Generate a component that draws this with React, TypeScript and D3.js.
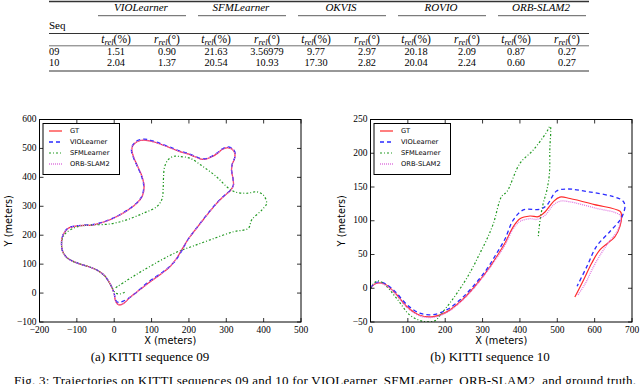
import React from "react";
import * as d3 from "d3";

type Pt = [number, number];

// table values
const methods = ["VIOLearner", "SFMLearner", "OKVIS", "ROVIO", "ORB-SLAM2"];
const seqLabels = ["09", "10"];
const errors09 = ["1.51", "0.90", "21.63", "3.56979", "9.77", "2.97", "20.18", "2.09", "0.87", "0.27"];
const errors10 = ["2.04", "1.37", "20.54", "10.93", "17.30", "2.82", "20.04", "2.24", "0.60", "0.27"];

const legendNames = ["GT", "VIOLearner", "SFMLearner", "ORB-SLAM2"];

const xTicks09 = [-200, -100, 0, 100, 200, 300, 400, 500];
const yTicks09 = [-100, 0, 100, 200, 300, 400, 500, 600];
const xTicks10 = [0, 100, 200, 300, 400, 500, 600, 700];
const yTicks10 = [-50, 0, 50, 100, 150, 200, 250];

// KITTI 09 trajectories (meters)
const gt09: Pt[] = [
  [0, 0], [3, -25], [8, -37], [14, -41], [25, -36], [42, -15], [70, 13], [96, 39], [125, 66], [149, 91],
  [168, 122], [181, 150], [198, 186], [218, 220], [238, 253], [262, 292], [283, 322], [300, 342], [312, 356],
  [319, 372], [318, 395], [314, 425], [316, 445], [322, 465], [323, 483], [316, 497], [303, 503], [290, 497],
  [275, 482], [261, 471], [245, 463], [232, 463], [215, 472], [195, 482], [176, 489], [158, 498], [130, 512],
  [105, 523], [80, 529], [62, 524], [50, 510], [47, 495], [52, 470], [62, 440], [73, 408], [80, 370], [75, 335],
  [60, 310], [40, 290], [15, 270], [-20, 249], [-56, 236], [-100, 232], [-123, 224], [-134, 208], [-140, 188],
  [-141, 168], [-139, 148], [-132, 130], [-120, 116], [-95, 102], [-70, 92], [-47, 80], [-30, 65], [-20, 51],
  [-7, 22], [-2, 5],
];
const vio09: Pt[] = [
  [0, 0], [3, -20], [7, -30], [14, -32], [24, -28], [51, -7], [87, 34], [131, 74], [160, 106], [178, 140],
  [198, 186], [218, 221], [238, 254], [262, 293], [283, 323], [300, 343], [312, 357], [319, 373], [318, 396],
  [314, 426], [316, 446], [322, 466], [324, 484], [317, 499], [303, 505], [290, 499], [275, 484], [261, 473],
  [245, 465], [232, 465], [215, 474], [195, 484], [176, 491], [158, 500], [130, 514], [105, 525], [80, 532],
  [62, 527], [50, 512], [46, 495], [51, 470], [61, 440], [72, 408], [79, 370], [74, 335], [59, 310], [39, 290],
  [14, 270], [-20, 250], [-56, 237], [-100, 233], [-123, 225], [-134, 209], [-140, 188], [-141, 168],
  [-139, 148], [-132, 130], [-120, 116], [-95, 102], [-70, 92], [-47, 80], [-30, 65], [-20, 51], [-7, 22], [-2, 5],
];
const sfm09: Pt[] = [
  [28, 3], [15, -3], [4, 0], [-7, 22], [-20, 51], [-30, 65], [-47, 80], [-70, 92], [-95, 102], [-120, 116],
  [-132, 130], [-139, 148], [-141, 168], [-138, 190], [-130, 207], [-100, 229], [-65, 235], [-11, 239],
  [33, 253], [78, 276], [114, 299], [128, 325], [131, 360], [132, 400], [135, 437], [145, 462], [160, 473],
  [176, 472], [203, 466], [238, 437], [274, 402], [301, 368], [323, 350], [355, 345], [381, 350], [399, 339],
  [408, 310], [395, 287], [368, 253], [359, 224], [319, 212], [261, 186], [210, 162], [168, 142], [120, 110],
  [60, 65], [2, 17],
];
const orb09: Pt[] = [
  [0, 0], [3, -25], [8, -37], [14, -41], [25, -36], [42, -15], [70, 13], [96, 39], [125, 66], [149, 91],
  [168, 122], [181, 150], [198, 186], [218, 220], [238, 253], [262, 292], [283, 322], [300, 342], [312, 356],
  [319, 372], [318, 395], [314, 425], [316, 445], [322, 465], [323, 483], [316, 497], [303, 503], [290, 497],
  [275, 482], [261, 471], [245, 463], [232, 463], [215, 472], [195, 482], [176, 489], [158, 498], [130, 512],
  [105, 523], [80, 529], [62, 524], [50, 510], [47, 495], [52, 470], [62, 440], [73, 408], [80, 370], [75, 335],
  [60, 310], [40, 290], [15, 270], [-20, 249], [-56, 236], [-100, 232], [-123, 224], [-134, 208], [-140, 188],
  [-141, 168], [-139, 148], [-132, 130], [-120, 116], [-95, 102], [-70, 92], [-47, 80], [-30, 65], [-20, 51],
  [-7, 22], [-2, 5],
];

// KITTI 10 trajectories (meters)
const gt10: Pt[] = [
  [0, 0], [10, 6], [21, 8], [39, 6], [66, -7], [97, -27], [132, -40], [168, -42], [204, -35], [240, -20],
  [275, 0], [311, 25], [338, 47], [360, 67], [382, 91], [400, 103], [427, 107], [449, 106], [467, 113],
  [489, 128], [507, 135], [534, 133], [600, 124], [668, 114], [672, 108], [668, 92], [654, 76], [614, 57],
  [592, 37], [570, 12], [547, -13],
];
const vio10: Pt[] = [
  [0, 0], [10, 7], [21, 9], [39, 7], [66, -5], [97, -24], [132, -37], [168, -39], [204, -32], [240, -17],
  [275, 3], [311, 28], [338, 52], [360, 73], [382, 101], [409, 116], [454, 117], [472, 123], [498, 144],
  [525, 147], [561, 145], [672, 131], [681, 123], [677, 111], [668, 101], [641, 84], [605, 62], [579, 32],
  [553, 3],
];
const sfm10: Pt[] = [
  [0, 0], [10, 8], [21, 11], [39, 5], [70, -15], [106, -40], [141, -49], [173, -48], [186, -40], [215, -20],
  [250, 8], [275, 32], [293, 52], [311, 72], [329, 96], [351, 136], [365, 143], [400, 185], [436, 205],
  [470, 230], [481, 240], [480, 205], [479, 170], [472, 145], [462, 125], [454, 101], [449, 76],
];
const orb10: Pt[] = [
  [0, 0], [10, 6], [21, 8], [39, 5], [66, -8], [97, -28], [132, -41], [168, -43], [204, -36], [240, -21],
  [275, -1], [311, 24], [338, 45], [360, 64], [382, 88], [400, 99], [427, 103], [445, 102], [467, 108],
  [489, 123], [507, 129], [534, 128], [600, 119], [668, 108], [668, 96], [660, 84], [640, 70], [618, 52],
  [597, 32], [575, 7], [555, -10],
];

const lineStyles = [
  { color: "#ff2a2a", dash: undefined, width: 1.2 },
  { color: "#2a2aff", dash: "4,3", width: 1.3 },
  { color: "#229922", dash: "2,2,1,2", width: 1.2 },
  { color: "#e07ae0", dash: "1,1", width: 1.3 },
];

const serif = "'Liberation Serif', 'Times New Roman', serif";
const sans = "'DejaVu Sans', sans-serif";
const fmt = (v: number) => (v < 0 ? "\u2212" + Math.abs(v) : String(v));

const plotTop = 119.5;
const plotBottom = 322;

const panels = [
  {
    id: "a", series: [gt09, vio09, sfm09, orb09], xDomain: [-200, 500], yDomain: [-100, 600],
    xTicks: xTicks09, yTicks: yTicks09, left: 39.5, right: 301, yLabelX: 9, caption: "(a) KITTI sequence 09", capX: 150,
  },
  {
    id: "b", series: [gt10, vio10, sfm10, orb10], xDomain: [0, 700], yDomain: [-50, 250],
    xTicks: xTicks10, yTicks: yTicks10, left: 370.5, right: 632, yLabelX: 342, caption: "(b) KITTI sequence 10", capX: 490,
  },
];

function Panel({ p }: { p: (typeof panels)[number] }) {
  const x = d3.scaleLinear().domain(p.xDomain).range([p.left, p.right]);
  const y = d3.scaleLinear().domain(p.yDomain).range([plotBottom, plotTop]);
  const line = d3
    .line<Pt>()
    .x((d) => x(d[0]))
    .y((d) => y(d[1]))
    .curve(d3.curveCatmullRom.alpha(0.5));
  const tk = 4;
  const lx = p.left + 3.5;
  const ly = plotTop + 4;
  return (
    <g>
      <defs>
        <clipPath id={"clip" + p.id}>
          <rect x={p.left} y={plotTop} width={p.right - p.left} height={plotBottom - plotTop} />
        </clipPath>
      </defs>
      <g clipPath={`url(#clip${p.id})`}>
        {p.series.map((s, i) => (
          <path
            key={i}
            d={line(s) || ""}
            fill="none"
            stroke={lineStyles[i].color}
            strokeWidth={lineStyles[i].width}
            strokeDasharray={lineStyles[i].dash}
          />
        ))}
      </g>
      {p.xTicks.map((t) => (
        <g key={"x" + t}>
          <line x1={x(t)} x2={x(t)} y1={plotBottom} y2={plotBottom - tk} stroke="#000" strokeWidth={0.8} />
          <line x1={x(t)} x2={x(t)} y1={plotTop} y2={plotTop + tk} stroke="#000" strokeWidth={0.8} />
          <text x={x(t)} y={plotBottom + 10.5} fontFamily={serif} fontSize={9.5} textAnchor="middle">
            {fmt(t)}
          </text>
        </g>
      ))}
      {p.yTicks.map((t) => (
        <g key={"y" + t}>
          <line x1={p.left} x2={p.left + tk} y1={y(t)} y2={y(t)} stroke="#000" strokeWidth={0.8} />
          <line x1={p.right} x2={p.right - tk} y1={y(t)} y2={y(t)} stroke="#000" strokeWidth={0.8} />
          <text x={p.left - 3} y={y(t) + 2.5} fontFamily={serif} fontSize={9.5} textAnchor="end">
            {fmt(t)}
          </text>
        </g>
      ))}
      <rect x={p.left} y={plotTop} width={p.right - p.left} height={plotBottom - plotTop} fill="none" stroke="#000" strokeWidth={1} />
      <g>
        <rect x={lx} y={ly} width={76.5} height={51} fill="#fff" stroke="#000" strokeWidth={1} />
        {legendNames.map((n, i) => {
          const ry = ly + 7.5 + i * 11;
          return (
            <g key={n}>
              <line
                x1={lx + 6} x2={lx + 19} y1={ry} y2={ry}
                stroke={lineStyles[i].color} strokeWidth={lineStyles[i].width}
                strokeDasharray={lineStyles[i].dash}
              />
              <text x={lx + 27} y={ry + 2.4} fontFamily={sans} fontSize={6.7}>
                {n}
              </text>
            </g>
          );
        })}
      </g>
      <text x={(p.left + p.right) / 2} y={344} fontFamily={sans} fontSize={9.8} textAnchor="middle">
        X (meters)
      </text>
      <text
        transform={`translate(${p.yLabelX},${(plotTop + plotBottom) / 2}) rotate(-90)`}
        fontFamily={sans} fontSize={9.8} textAnchor="middle" dy="0.35em"
      >
        Y (meters)
      </text>
      <text x={p.capX} y={361} fontFamily={serif} fontSize={13} textAnchor="middle">
        {p.caption}
      </text>
    </g>
  );
}

function Table() {
  const group = d3.scaleLinear().domain([0, 4]).range([141, 541]);
  const colX = (i: number) => group(Math.floor(i / 2)) + (i % 2 === 0 ? -25 : 26);
  const L = 49;
  const R = 589;
  return (
    <g fontFamily={serif} fontSize={10.3}>
      <line x1={L} x2={R} y1={1.5} y2={1.5} stroke="#333" strokeWidth={1.5} />
      {methods.map((m, g) => (
        <g key={m}>
          <text x={group(g)} y={10.8} textAnchor="middle" fontStyle="italic" fontSize={11}>{m}</text>
          <line x1={group(g) - 43} x2={group(g) + 45} y1={15.7} y2={15.7} stroke="#333" strokeWidth={0.8} />
        </g>
      ))}
      <text x={L} y={28.5} fontSize={11}>Seq</text>
      <line x1={L} x2={R} y1={33.5} y2={33.5} stroke="#333" strokeWidth={1} />
      {d3.range(10).map((i) => (
        <text key={"h" + i} x={colX(i)} y={43} textAnchor="middle" fontSize={11.5}>
          <tspan fontStyle="italic">{i % 2 === 0 ? "t" : "r"}</tspan>
          <tspan fontStyle="italic" fontSize={8.5} dy={1.5}>rel</tspan>
          <tspan dy={-1.5}>{i % 2 === 0 ? "(%)" : "(\u00b0)"}</tspan>
        </text>
      ))}
      <line x1={L} x2={R} y1={45.8} y2={45.8} stroke="#333" strokeWidth={0.7} />
      {[errors09, errors10].map((row, r) => (
        <g key={"r" + r}>
          <text x={L} y={55.4 + r * 10.3}>{seqLabels[r]}</text>
          {row.map((v, i) => (
            <text key={i} x={colX(i)} y={55.4 + r * 10.3} textAnchor="middle">{v}</text>
          ))}
        </g>
      ))}
      <line x1={L} x2={R} y1={71} y2={71} stroke="#333" strokeWidth={1.2} />
    </g>
  );
}

export default function App() {
  return (
    <svg width={640} height={384} viewBox="0 0 640 384" style={{ position: "absolute", left: 0, top: 0, background: "#fff" }}>
      <rect width={640} height={384} fill="#fff" />
      <Table />
      {panels.map((p) => (
        <Panel key={p.id} p={p} />
      ))}
      <text x={14} y={385} fontFamily={serif} fontSize={13} textLength={622} lengthAdjust="spacing">
        Fig. 3: Trajectories on KITTI sequences 09 and 10 for VIOLearner, SFMLearner, ORB-SLAM2, and ground truth.
      </text>
    </svg>
  );
}
